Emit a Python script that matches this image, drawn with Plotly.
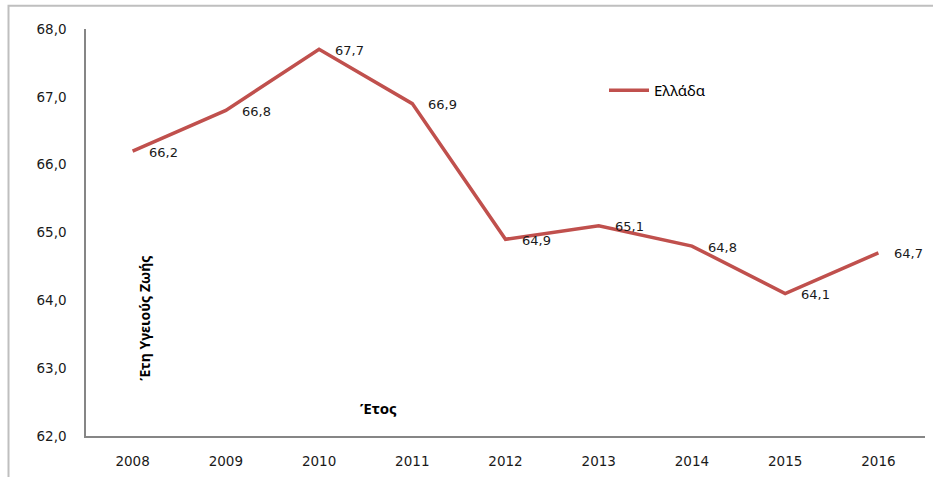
import plotly.graph_objects as go

years = ["2008", "2009", "2010", "2011", "2012", "2013", "2014", "2015", "2016"]
values = [66.2, 66.8, 67.7, 66.9, 64.9, 65.1, 64.8, 64.1, 64.7]
series_name = "Ελλάδα"
y_title = "Έτη Υγειούς Ζωής"
x_title = "Έτος"
y_ticks = [62, 63, 64, 65, 66, 67, 68]

def fmt(v):
    return f"{v:.1f}".replace(".", ",")

fig = go.Figure()
fig.add_trace(go.Scatter(
    x=years, y=values, mode="lines", name=series_name,
    line=dict(color="#C0504D", width=3.5),
))

for i, v in enumerate(values):
    fig.add_annotation(x=i, y=v, xref="x", yref="y", text=fmt(v), showarrow=False,
                       xanchor="left", yanchor="middle", xshift=14, yshift=-1,
                       font=dict(family="DejaVu Sans", size=13, color="#1a1a1a"))

fig.add_annotation(xref="paper", yref="paper", x=(145 - 86) / 839, y=(439 - 321) / 410,
                   xanchor="center", yanchor="middle",
                   text=f"<b>{y_title}</b>", textangle=-90, showarrow=False,
                   font=dict(family="Noto Sans", size=14, color="black"))
fig.add_annotation(xref="paper", yref="paper", x=(378 - 86) / 839, y=(439 - 411) / 410,
                   xanchor="center", yanchor="middle",
                   text=f"<b>{x_title}</b>", showarrow=False,
                   font=dict(family="Noto Sans", size=15, color="black"))

fig.add_shape(type="rect", xref="paper", yref="paper",
              x0=(8.5 - 86) / 839, x1=1.3, y0=-0.3, y1=(439 - 5.5) / 410,
              line=dict(color="#BFBFBF", width=2), fillcolor="rgba(0,0,0,0)", layer="below")

fig.update_layout(
    width=933, height=477,
    margin=dict(l=86, r=8, t=29, b=38),
    paper_bgcolor="white", plot_bgcolor="white",
    separators=",.",
    showlegend=True,
    legend=dict(x=(604 - 86) / 839, y=(439 - 91) / 410, xanchor="left", yanchor="middle",
                font=dict(family="Noto Sans", size=15, color="black"),
                bgcolor="rgba(0,0,0,0)", itemwidth=40),
    xaxis=dict(type="category", range=[-0.5, 8.5], showline=True, linecolor="#868686",
               linewidth=1.5, showgrid=False, ticks="", ticklabelstandoff=12,
               tickfont=dict(family="DejaVu Sans", size=13.5, color="#1a1a1a")),
    yaxis=dict(range=[62, 68], tickvals=y_ticks, tickformat=".1f", showline=True,
               linecolor="#868686", linewidth=1.5, showgrid=False, ticks="",
               ticklabelstandoff=15, zeroline=False,
               tickfont=dict(family="DejaVu Sans", size=13.5, color="#1a1a1a")),
)

fig.write_html("out.html")
